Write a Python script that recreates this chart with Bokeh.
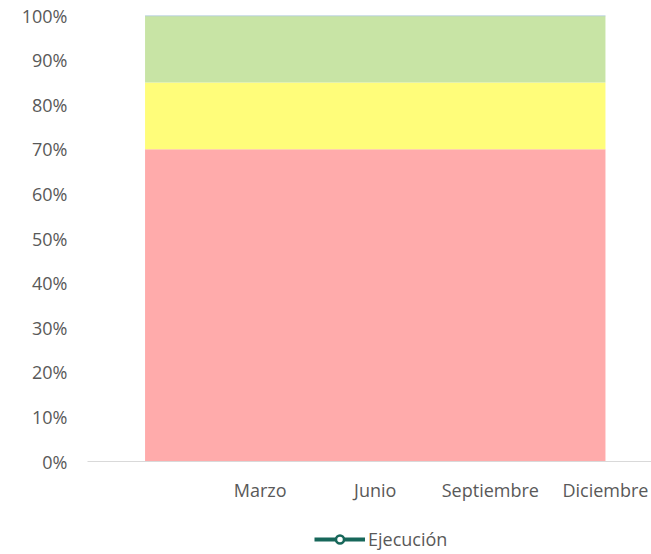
import numpy as np
from bokeh.plotting import figure
from bokeh.layouts import column
from bokeh.models import (ColumnDataSource, FixedTicker, NumeralTickFormatter,
                          Range1d, Legend, LegendItem)
from bokeh.embed import file_html
from bokeh.resources import INLINE

# ---- data ----
categories = ["", "Marzo", "Junio", "Septiembre", "Diciembre"]
rojo = [0.70, 0.70, 0.70, 0.70, 0.70]
amarillo = [0.15, 0.15, 0.15, 0.15, 0.15]
verde = [0.15, 0.15, 0.15, 0.15, 0.15]
ejecucion = [np.nan, np.nan, np.nan, np.nan, np.nan]
y_ticks = [0.0, 0.1, 0.2, 0.3, 0.4, 0.5, 0.6, 0.7, 0.8, 0.9, 1.0]

x = list(range(len(categories)))
total = [r + a + v for r, a, v in zip(rojo, amarillo, verde)]
src = ColumnDataSource(dict(x=x, rojo=rojo, amarillo=amarillo, verde=verde,
                            total=total, ejecucion=ejecucion))

FONT = "Open Sans"
TXT = "#595959"
EJ_COLOR = "#17675A"

p = figure(width=651, height=526, output_backend="svg", toolbar_location=None,
           x_range=Range1d(-0.5, 4.4), y_range=Range1d(0, 1),
           min_border_left=87, min_border_right=0, min_border_top=15,
           min_border_bottom=65)
p.outline_line_color = None
p.xgrid.visible = False
p.ygrid.visible = False
p.background_fill_color = "white"

p.varea_stack(stackers=["rojo", "amarillo", "verde"], x="x",
              color=["#FFABAB", "#FFFD7A", "#C8E4A5"], source=src)
p.line(x="x", y="total", source=src, line_color="#AFC8E8", line_width=1.5)
p.line(x="x", y="ejecucion", source=src, line_color=EJ_COLOR, line_width=4)
p.scatter(x="x", y="ejecucion", source=src, marker="circle", size=10,
          fill_color="white", line_color=EJ_COLOR, line_width=2.5)

# axes
xa = p.xaxis[0]
xa.ticker = FixedTicker(ticks=x)
xa.major_label_overrides = {i: c for i, c in zip(x, categories)}
xa.axis_line_color = "#D9D9D9"
xa.axis_line_width = 1
xa.major_tick_line_color = None
xa.minor_tick_line_color = None
xa.major_label_standoff = 10
xa.major_label_text_font = FONT
xa.major_label_text_font_size = "18px"
xa.major_label_text_color = TXT

ya = p.yaxis[0]
ya.ticker = FixedTicker(ticks=y_ticks)
ya.formatter = NumeralTickFormatter(format="0%")
ya.axis_line_color = None
ya.major_tick_line_color = None
ya.minor_tick_line_color = None
ya.major_label_standoff = 14
ya.major_label_text_font = FONT
ya.major_label_text_font_size = "18px"
ya.major_label_text_color = TXT

# legend strip below the chart
lg = figure(width=651, height=28, output_backend="svg", toolbar_location=None,
            x_range=Range1d(-0.5, 4.4), y_range=Range1d(0, 1), min_border=0)
lg.axis.visible = False
lg.grid.visible = False
lg.outline_line_color = None
l_r = lg.line(x="x", y="ejecucion", source=src, line_color=EJ_COLOR, line_width=4)
s_r = lg.scatter(x="x", y="ejecucion", source=src, marker="circle", size=10,
                 fill_color="white", line_color=EJ_COLOR, line_width=2.5)
legend = Legend(items=[LegendItem(label="Ejecución", renderers=[l_r, s_r])],
                location=(227, 3), orientation="horizontal",
                glyph_width=51, glyph_height=20, label_standoff=3,
                padding=0, margin=0, spacing=0,
                label_text_font=FONT, label_text_font_size="18px",
                label_text_color=TXT, border_line_color=None,
                background_fill_alpha=0)
lg.add_layout(legend, "center")

layout = column(p, lg, spacing=0)
open("out.html", "w").write(file_html(layout, INLINE))
